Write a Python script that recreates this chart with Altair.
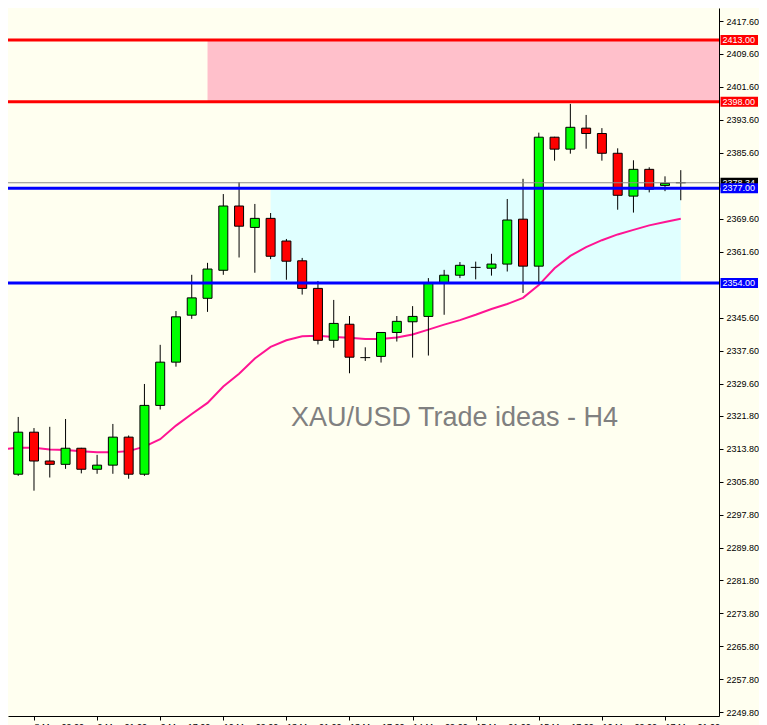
import altair as alt
import pandas as pd

# ---- candle data (H4), index 0 = 8 May 05:00 ----
candle_idx = list(range(-1, 43))
opens = [2314.4, 2307.6, 2317.8, 2310.8, 2310.0, 2313.9, 2308.8, 2309.8, 2316.6, 2307.6,
         2324.3, 2334.8, 2346.2, 2350.3, 2357.1, 2372.7, 2367.5, 2369.7, 2364.2, 2359.4,
         2352.7, 2340.1, 2344.0, 2335.9, 2336.2, 2342.0, 2344.6, 2345.9, 2353.9, 2355.9,
         2357.8, 2357.6, 2358.6, 2369.5, 2358.1, 2389.4, 2386.5, 2391.6, 2390.3, 2385.5,
         2375.1, 2381.6, 2377.7, 2378.34]
highs = [2316.0, 2321.5, 2318.8, 2319.1, 2321.0, 2314.0, 2312.3, 2319.8, 2317.0, 2329.5,
         2339.0, 2347.2, 2356.0, 2358.9, 2375.6, 2378.5, 2373.2, 2371.0, 2364.7, 2360.1,
         2354.5, 2349.9, 2346.0, 2338.4, 2342.1, 2346.0, 2348.4, 2355.2, 2357.2, 2359.1,
         2359.2, 2361.1, 2374.4, 2379.3, 2390.5, 2389.5, 2397.5, 2394.8, 2391.6, 2386.7,
         2383.8, 2382.1, 2379.9, 2381.4]
lows = [2306.9, 2307.2, 2303.6, 2306.8, 2308.9, 2307.8, 2307.7, 2307.7, 2306.5, 2307.2,
        2323.3, 2333.7, 2345.3, 2347.0, 2356.0, 2360.2, 2356.5, 2359.8, 2354.8, 2351.2,
        2339.1, 2338.3, 2332.1, 2335.1, 2334.7, 2339.8, 2335.9, 2336.4, 2346.3, 2355.2,
        2354.9, 2355.8, 2356.8, 2351.6, 2354.0, 2383.7, 2385.4, 2386.6, 2383.7, 2371.8,
        2371.1, 2376.0, 2376.3, 2374.1]
closes = [2307.8, 2317.8, 2310.8, 2310.0, 2313.9, 2308.8, 2309.8, 2316.6, 2307.6, 2324.3,
          2334.8, 2345.8, 2350.4, 2357.4, 2372.7, 2367.8, 2369.7, 2360.5, 2359.3, 2352.7,
          2340.1, 2344.2, 2336.0, 2335.9, 2342.0, 2344.7, 2345.9, 2353.9, 2355.9, 2358.3,
          2357.8, 2358.6, 2369.3, 2358.1, 2389.4, 2386.5, 2391.8, 2390.3, 2385.5, 2375.3,
          2381.6, 2376.8, 2378.2, 2378.34]
ma_values = [2313.7, 2314.0, 2314.0, 2313.6, 2313.5, 2313.2, 2312.9, 2312.9, 2313.2, 2314.3,
             2316.1, 2319.4, 2322.2, 2324.9, 2328.9, 2332.0, 2335.7, 2338.5, 2340.1, 2341.1,
             2341.2, 2340.9, 2340.7, 2340.4, 2340.4, 2340.8, 2341.5, 2342.7, 2343.9, 2345.0,
             2346.3, 2347.7, 2348.9, 2350.4, 2353.5, 2357.6, 2360.6, 2362.7, 2364.4, 2365.8,
             2366.9, 2368.0, 2368.8, 2369.6]

# ---- time axis ----
tick_idx = [1, 5, 9, 13, 17, 21, 25, 29, 33, 37, 41]
time_labels = ["8 May 09:00", "9 May 01:00", "9 May 17:00", "10 May 09:00", "13 May 01:00",
               "13 May 17:00", "14 May 09:00", "15 May 01:00", "15 May 17:00", "16 May 09:00",
               "17 May 01:00"]

# ---- price axis ----
price_ticks = [2417.6, 2409.6, 2401.6, 2393.6, 2385.6, 2369.6, 2361.6, 2345.6, 2337.6,
               2329.6, 2321.8, 2313.8, 2305.8, 2297.8, 2289.8, 2281.8, 2273.8, 2265.8,
               2257.8, 2249.8]

# ---- zones & levels ----
zone_x1 = [12, 16]
zone_x2 = [45, 42]
zone_lo = [2398, 2354]
zone_hi = [2413, 2377]
zone_col = ["#FFC0CB", "#E0FFFF"]

level_price = [2413.0, 2398.0, 2377.0, 2354.0]
level_col = ["#FF0000", "#FF0000", "#0000FF", "#0000FF"]
current_price = 2378.34

tag_price = [2378.34, 2413.0, 2398.0, 2377.0, 2354.0]
tag_text = ["2378.34", "2413.00", "2398.00", "2377.00", "2354.00"]
tag_col = ["#000000", "#FF0000", "#FF0000", "#0000FF", "#0000FF"]

note_text = ["XAU/USD Trade ideas - H4"]
note_x = [17.29]
note_y = [2321.3]

FONT = "Liberation Sans"

df = pd.DataFrame(dict(idx=candle_idx, open=opens, high=highs, low=lows,
                       close=closes, ma=ma_values))
df["dir"] = ["up" if c > o else ("down" if c < o else "flat") for o, c in zip(opens, closes)]

zones = pd.DataFrame(dict(x1=zone_x1, x2=zone_x2, lo=zone_lo, hi=zone_hi, col=zone_col))
levels = pd.DataFrame(dict(price=level_price, col=level_col))
cur = pd.DataFrame(dict(price=[current_price]))
tags = pd.DataFrame(dict(price=tag_price, text=tag_text, col=tag_col))
notes = pd.DataFrame(dict(x=note_x, y=note_y, text=note_text))

xs = alt.Scale(domain=[-0.331, 44.106], nice=False, zero=False)
ys = alt.Scale(domain=[2248.91, 2420.76], nice=False, zero=False)

label_expr = "[" + ",".join("'%s'" % t for t in time_labels) + "][floor((datum.value - 1) / 4)]"

x_axis = alt.Axis(values=tick_idx, labelExpr=label_expr, orient="bottom", title="",
                  grid=False, domainColor="black", tickColor="black", labelColor="black",
                  labelFont=FONT, labelFontSize=9, tickSize=4, labelAlign="left",
                  labelBaseline="top", labelPadding=2, labelFlush=False, labelOverlap=False,
                  labelBound=False)
y_axis = alt.Axis(values=price_ticks, format=".2f", orient="right", title="", grid=False,
                  domainColor="black", tickColor="black", labelColor="black",
                  labelFont=FONT, labelFontSize=9, tickSize=4, labelPadding=3,
                  labelOverlap=False, labelFlush=False, labelBound=False)


def X(field):
    return alt.X(field, type="quantitative", scale=xs, axis=x_axis)


def Y(field):
    return alt.Y(field, type="quantitative", scale=ys, axis=y_axis)


zone_layer = alt.Chart(zones).mark_rect(clip=True).encode(
    x=X("x1"), x2="x2", y=Y("lo"), y2="hi", color=alt.Color("col:N", scale=None))

ma_layer = alt.Chart(df).mark_line(color="#FF1493", strokeWidth=2, clip=True).encode(
    x=X("idx"), y=Y("ma"))

wick_layer = alt.Chart(df).mark_rule(color="black", strokeWidth=1, clip=True).encode(
    x=X("idx"), y=Y("low"), y2="high")

body_layer = alt.Chart(df).transform_filter("datum.dir != 'flat'").mark_bar(
    size=9, stroke="black", strokeWidth=1, clip=True).encode(
    x=X("idx"), y=Y("open"), y2="close",
    color=alt.Color("dir:N", scale=alt.Scale(domain=["up", "down"],
                                             range=["#00FF00", "#FF0000"]), legend=None))

doji_layer = alt.Chart(df).transform_filter("datum.dir == 'flat'").transform_calculate(
    xl="datum.idx - 0.3125", xr="datum.idx + 0.3125").mark_rule(
    color="black", strokeWidth=1, clip=True).encode(
    x=X("xl"), x2="xr", y=Y("open"))

cur_layer = alt.Chart(cur).mark_rule(color="#8C8C8C", strokeWidth=1).encode(y=Y("price"))

level_layer = alt.Chart(levels).mark_rule(strokeWidth=3).encode(
    y=Y("price"), color=alt.Color("col:N", scale=None))

note_layer = alt.Chart(notes).mark_text(align="left", baseline="middle", font=FONT,
                                         fontSize=27, color="#808080").encode(
    x=X("x"), y=Y("y"), text="text:N")

tag_box = alt.Chart(tags).transform_calculate(
    lo="datum.price - 1.21", hi="datum.price + 1.21").mark_rect().encode(
    x=alt.value(712.5), x2=alt.value(750), y=Y("lo"), y2="hi",
    color=alt.Color("col:N", scale=None))

tag_txt = alt.Chart(tags).mark_text(align="left", baseline="middle", font=FONT,
                                    fontSize=9, color="white").encode(
    x=alt.value(714.5), y=Y("price"), text="text:N")

tag_layers = []
for i in range(len(tag_price)):
    flt = "datum.text == '%s'" % tag_text[i]
    tag_layers.append(tag_box.transform_filter(flt))
    tag_layers.append(tag_txt.transform_filter(flt))

chart = alt.layer(zone_layer, ma_layer, wick_layer, body_layer, doji_layer, cur_layer,
                  level_layer, note_layer, *tag_layers).properties(
    width=711, height=708,
    autosize=alt.AutoSizeParams(type="none"),
    padding={"left": 0, "top": 0, "right": 40, "bottom": 9},
    background="#FFFFF0",
).configure_view(strokeWidth=0)

chart.save("out.html", embed_options={"renderer": "svg", "actions": False})
